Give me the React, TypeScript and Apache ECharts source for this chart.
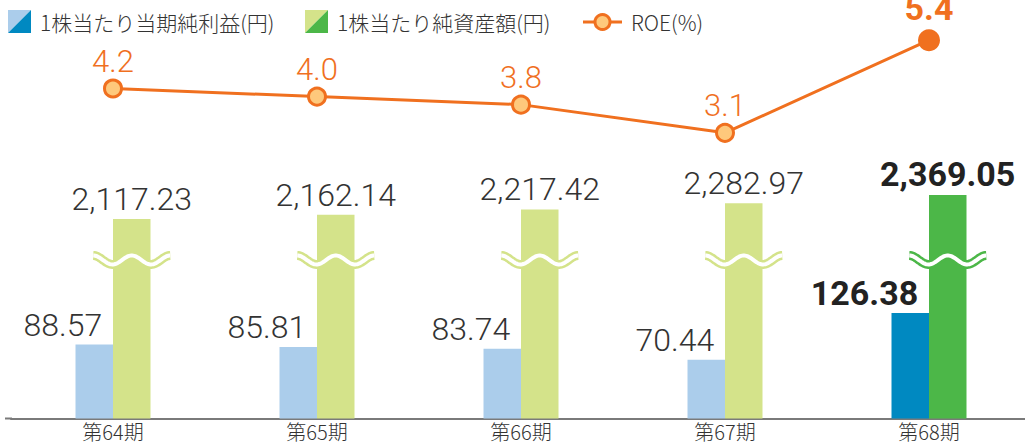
import React, { useEffect, useRef } from "react";
import * as echarts from "echarts";

const categories = ["第64期", "第65期", "第66期", "第67期", "第68期"];
const epsValues = [88.57, 85.81, 83.74, 70.44, 126.38];
const bpsValues = [2117.23, 2162.14, 2217.42, 2282.97, 2369.05];
const roeValues = [4.2, 4.0, 3.8, 3.1, 5.4];
const legendNames = ["1株当たり当期純利益(円)", "1株当たり純資産額(円)", "ROE(%)"];

const LIGHT_BLUE = "#abcdeb";
const DARK_BLUE = "#0089c1";
const LIGHT_GREEN = "#d4e38a";
const DARK_GREEN = "#4cb748";
const ORANGE = "#f0701f";
const ORANGE_FILL = "#fec97c";
const TEXT = "#333333";
const BAR_W = 37.5;
const WAVE_LEVEL = 1687;
const NUM_FONT = "Roboto, 'Noto Sans', sans-serif";
const JP_FONT = "'Noto Sans CJK JP', 'Noto Sans', sans-serif";

export default function App() {
  const ref = useRef<HTMLDivElement>(null);
  useEffect(() => {
    if (!ref.current) return;
    const chart = echarts.init(ref.current, undefined, { renderer: "svg" });
    const last = categories.length - 1;

    const fmt2 = (v: number) =>
      v.toLocaleString("en-US", { minimumFractionDigits: 2, maximumFractionDigits: 2 });

    const epsData = epsValues.map((v, i) =>
      i === last
        ? {
            value: v,
            itemStyle: { color: DARK_BLUE },
            label: { fontWeight: "bold", fontSize: 34, lineHeight: 34, color: "#222", distance: 3 },
          }
        : v
    );
    const bpsData = bpsValues.map((v, i) =>
      i === last
        ? {
            value: v,
            itemStyle: { color: DARK_GREEN },
            label: { fontWeight: "bold", fontSize: 34, lineHeight: 34, color: "#222", distance: 4 },
          }
        : v
    );
    const roeData = roeValues.map((v, i) =>
      i === last
        ? {
            value: v,
            symbolSize: 22,
            itemStyle: { color: ORANGE, borderWidth: 0 },
            label: { fontWeight: "bold", fontSize: 34, lineHeight: 34, distance: 4 },
          }
        : v
    );

    const waveData = categories.map((_, i) => [i, WAVE_LEVEL]);

    const legendY = 22;
    const legendText = (x: number, text: string) => ({
      type: "text",
      x,
      y: legendY,
      style: {
        text,
        fontSize: 21,
        fontWeight: 300,
        fontFamily: JP_FONT,
        fill: TEXT,
        verticalAlign: "middle",
      },
    });
    const option: any = {
      animation: false,
      grid: {
        left: 11,
        width: 1020,
        top: 18,
        bottom: 25.5,
        containLabel: false,
        outerBoundsMode: "none",
      },
      xAxis: {
        type: "category",
        data: categories,
        boundaryGap: true,
        axisLine: { show: true, lineStyle: { color: "#7a7a7a", width: 2 } },
        axisTick: { show: false },
        axisLabel: {
          margin: 3,
          fontSize: 20,
          lineHeight: 20,
          fontWeight: 300,
          color: TEXT,
          fontFamily: JP_FONT,
        },
        splitLine: { show: false },
      },
      yAxis: [
        { type: "value", min: 0, max: 480, show: false, splitLine: { show: false } },
        { type: "value", min: 23.8, max: 4226, show: false, splitLine: { show: false } },
        { type: "value", min: -3.99, max: 5.95, show: false, splitLine: { show: false } },
      ],
      series: [
        {
          name: legendNames[0],
          type: "bar",
          yAxisIndex: 0,
          data: epsData,
          barWidth: BAR_W,
          barGap: "0%",
          itemStyle: { color: LIGHT_BLUE },
          label: {
            show: true,
            position: "top",
            align: "right",
            offset: [8, 0],
            distance: 4,
            fontSize: 32,
            lineHeight: 32,
            fontWeight: 300,
            fontFamily: NUM_FONT,
            color: TEXT,
            formatter: (p: any) => fmt2(p.value),
          },
          z: 2,
        },
        {
          name: legendNames[1],
          type: "bar",
          yAxisIndex: 1,
          data: bpsData,
          barWidth: BAR_W,
          barGap: "0%",
          itemStyle: { color: LIGHT_GREEN },
          label: {
            show: true,
            position: "top",
            distance: 4,
            fontSize: 32,
            lineHeight: 32,
            fontWeight: 300,
            fontFamily: NUM_FONT,
            color: TEXT,
            formatter: (p: any) => fmt2(p.value),
          },
          z: 2,
        },
        {
          type: "custom",
          xAxisIndex: 0,
          yAxisIndex: 1,
          data: waveData,
          encode: { x: 0, y: 1 },
          clip: false,
          silent: true,
          z: 4,
          renderItem: (params: any, api: any) => {
            const idx = api.value(0);
            const p = api.coord([idx, api.value(1)]);
            const cx = p[0] + BAR_W / 2;
            const cy = p[1];
            const half = 38.5;
            const period = 38.5;
            const amp = 4.5;
            let d = "";
            for (let x = -half; x <= half + 0.01; x += 1) {
              const y = cy - amp * Math.cos((2 * Math.PI * x) / period);
              d += (d ? " L " : "M ") + (cx + x).toFixed(2) + " " + y.toFixed(2);
            }
            const color = idx === last ? DARK_GREEN : LIGHT_GREEN;
            return {
              type: "group",
              children: [
                {
                  type: "path",
                  shape: { pathData: d },
                  style: { fill: "none", stroke: color, lineWidth: 9 },
                },
                {
                  type: "path",
                  shape: { pathData: d },
                  style: { fill: "none", stroke: "#ffffff", lineWidth: 4 },
                },
              ],
            };
          },
        },
        {
          name: legendNames[2],
          type: "line",
          yAxisIndex: 2,
          data: roeData,
          symbol: "circle",
          symbolSize: 17,
          lineStyle: { color: ORANGE, width: 3 },
          itemStyle: { color: ORANGE_FILL, borderColor: ORANGE, borderWidth: 3 },
          label: {
            show: true,
            position: "top",
            distance: 2,
            fontSize: 31,
            lineHeight: 31,
            fontWeight: 300,
            fontFamily: NUM_FONT,
            color: ORANGE,
            formatter: (p: any) => Number(p.value).toFixed(1),
          },
          z: 5,
        },
      ],
      graphic: [
        { type: "line", shape: { x1: 5, y1: 418.5, x2: 12, y2: 418.5 }, style: { stroke: "#7a7a7a", lineWidth: 2 } },
        { type: "polygon", shape: { points: [[8, 10], [31, 10], [8, 33]] }, style: { fill: LIGHT_BLUE } },
        { type: "polygon", shape: { points: [[31, 10], [31, 33], [8, 33]] }, style: { fill: DARK_BLUE } },
        legendText(40, legendNames[0]),
        { type: "polygon", shape: { points: [[305, 10], [328, 10], [305, 33]] }, style: { fill: LIGHT_GREEN } },
        { type: "polygon", shape: { points: [[328, 10], [328, 33], [305, 33]] }, style: { fill: DARK_GREEN } },
        legendText(337, legendNames[1]),
        { type: "line", shape: { x1: 583, y1: legendY, x2: 622, y2: legendY }, style: { stroke: ORANGE, lineWidth: 3 } },
        { type: "circle", shape: { cx: 602.5, cy: legendY, r: 7.5 }, style: { fill: ORANGE_FILL, stroke: ORANGE, lineWidth: 3 } },
        legendText(631, legendNames[2]),
      ],
    };
    chart.setOption(option);
    return () => chart.dispose();
  }, []);
  return (
    <div
      ref={ref}
      style={{ position: "fixed", left: 0, top: 0, width: 1025, height: 444, background: "#fff" }}
    />
  );
}
